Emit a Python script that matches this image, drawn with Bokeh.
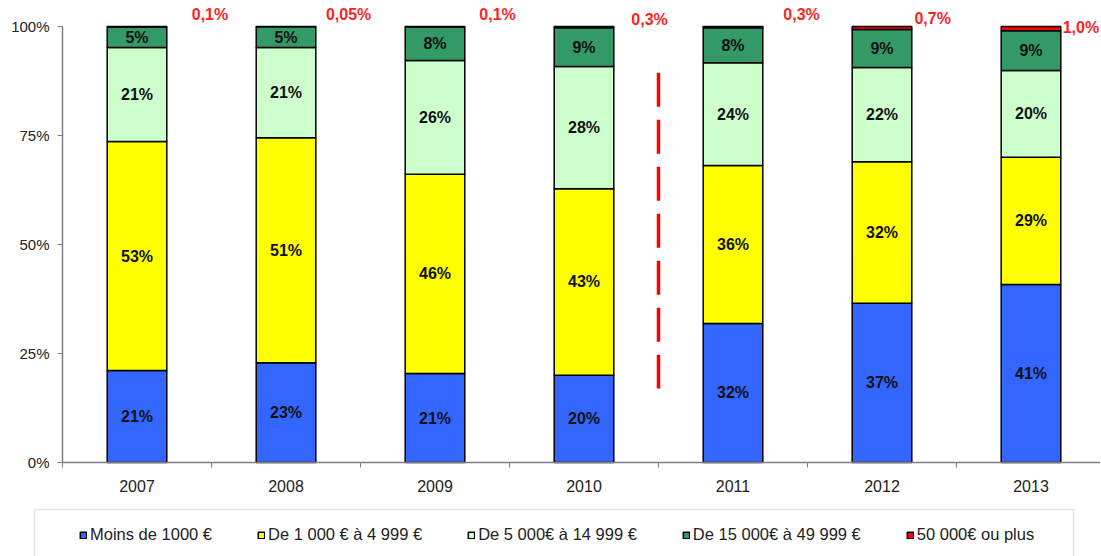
from bokeh.plotting import figure
from bokeh.models import (ColumnDataSource, FixedTicker, Legend, LegendItem,
                          PrintfTickFormatter, BoxAnnotation, LinearAxis)
from bokeh.embed import file_html
from bokeh.resources import INLINE
from bokeh.core.properties import value

# ---------------- data ----------------
years = ["2007", "2008", "2009", "2010", "2011", "2012", "2013"]
moins_1000 = [21.1, 22.9, 20.4, 20.0, 31.9, 36.5, 40.8]
de_1000_4999 = [52.5, 51.6, 45.7, 42.8, 36.2, 32.5, 29.2]
de_5000_14999 = [21.6, 20.7, 26.1, 28.0, 23.6, 21.6, 19.9]
de_15000_49999 = [4.7, 4.75, 7.7, 8.9, 8.0, 8.7, 9.1]
plus_50000 = [0.1, 0.05, 0.1, 0.3, 0.3, 0.7, 1.0]

labels_moins_1000 = ["21%", "23%", "21%", "20%", "32%", "37%", "41%"]
labels_1000_4999 = ["53%", "51%", "46%", "43%", "36%", "32%", "29%"]
labels_5000_14999 = ["21%", "21%", "26%", "28%", "24%", "22%", "20%"]
labels_15000_49999 = ["5%", "5%", "8%", "9%", "8%", "9%", "9%"]
labels_50000 = ["0,1%", "0,05%", "0,1%", "0,3%", "0,3%", "0,7%", "1,0%"]

series_names = ["Moins de 1000 €", "De 1 000 € à 4 999 €", "De 5 000€ à 14 999 €",
                "De 15 000€ à 49 999 €", "50 000€ ou plus"]
y_ticks = [0, 25, 50, 75, 100]
break_after_year = "2010"   # dashed separator between 2010 and 2011

# ---------------- layout / style ----------------
colors = ["#3366FF", "#FFFF00", "#CCFFCC", "#339966", "#FF0000"]
red_label_dx = [0.49, 0.42, 0.42, 0.44, 0.46, 0.34, 0.335]
red_label_y = [102.75, 102.75, 102.75, 101.6, 102.75, 101.8, 99.8]
sep_top, sep_bottom = 89.4, 17
FONT = "Liberation Sans"
AXIS_GREY = "#7F7F7F"
W, H = 1100, 556
PX_X, PX_Y = 149.0, 4.36          # pixels per category / per percent
ORIGIN_X, ORIGIN_Y = 62, 462      # pixel position of (0, 0%)

series = [moins_1000, de_1000_4999, de_5000_14999, de_15000_49999, plus_50000]
seg_labels = [labels_moins_1000, labels_1000_4999, labels_5000_14999, labels_15000_49999]
keys = ["s0", "s1", "s2", "s3", "s4"]
x = [i + 0.5 for i in range(len(years))]

data = {"x": x, "year": years}
for k, s in zip(keys, series):
    data[k] = s
source = ColumnDataSource(data)

x_start = -ORIGIN_X / PX_X
x_end = (W - ORIGIN_X) / PX_X
y_end = ORIGIN_Y / PX_Y
y_start = -(H - ORIGIN_Y) / PX_Y

p = figure(width=W, height=H, x_range=(x_start, x_end), y_range=(y_start, y_end),
           output_backend="svg", toolbar_location=None,
           x_axis_location=None, y_axis_location=None,
           min_border_left=0, min_border_right=0, min_border_top=0, min_border_bottom=0)
p.outline_line_color = None
p.xgrid.grid_line_color = None
p.ygrid.grid_line_color = None
p.background_fill_color = "white"

rends = p.vbar_stack(keys, x="x", width=0.4, source=source, color=colors,
                     line_color="black", line_width=1.5)

# segment labels
lx, ly, lt = [], [], []
for j in range(len(years)):
    bottom = 0
    for si in range(4):
        v = series[si][j]
        lx.append(x[j])
        ly.append(bottom + v / 2)
        lt.append(seg_labels[si][j])
        bottom += v
p.text(x=lx, y=ly, text=lt, text_align="center", text_baseline="middle",
       text_font=value(FONT), text_font_style="bold", text_font_size="16px",
       text_color="#111111")

# red labels for 50 000€ ou plus
p.text(x=[x[j] + red_label_dx[j] for j in range(len(years))], y=red_label_y,
       text=labels_50000, text_align="center", text_baseline="middle",
       text_font=value(FONT), text_font_style="bold", text_font_size="16px",
       text_color="#FF1F1F")

# dashed separator
bi = years.index(break_after_year) + 1
p.segment(x0=[bi], y0=[sep_top], x1=[bi], y1=[sep_bottom], line_color="#FF0000",
          line_width=3.5, line_dash="34 13")

# axes (fixed at the data origin so the frame can span the whole canvas)
xa = LinearAxis(fixed_location=0, bounds=(0, x_end))
xa.ticker = FixedTicker(ticks=x, minor_ticks=list(range(len(years) + 1)))
xa.major_label_overrides = {xi: y for xi, y in zip(x, years)}
xa.major_tick_out = 0
xa.major_tick_in = 0
xa.minor_tick_out = 5
xa.minor_tick_in = 0
xa.minor_tick_line_color = AXIS_GREY
xa.axis_line_color = AXIS_GREY
xa.axis_line_width = 1.5
xa.major_label_standoff = 12
xa.major_label_text_font = FONT
xa.major_label_text_font_size = "16px"
xa.major_label_text_color = "#222222"
p.add_layout(xa, "below")

ya = LinearAxis(fixed_location=0, bounds=(0, 100))
ya.ticker = FixedTicker(ticks=y_ticks)
ya.formatter = PrintfTickFormatter(format="%d%%")
ya.major_tick_out = 5
ya.major_tick_in = 0
ya.minor_tick_line_color = None
ya.axis_line_color = AXIS_GREY
ya.axis_line_width = 1.5
ya.major_tick_line_color = AXIS_GREY
ya.major_label_standoff = 8
ya.major_label_text_font = FONT
ya.major_label_text_font_size = "15px"
ya.major_label_text_color = "#222222"
p.add_layout(ya, "left")

# ---------------- legend (boxed strip below the axis) ----------------
box_left_px, box_right_px, box_top_px = 34, 1073, 509
legend_box = BoxAnnotation(left=(box_left_px - ORIGIN_X) / PX_X,
                           right=(box_right_px - ORIGIN_X) / PX_X,
                           top=(ORIGIN_Y - box_top_px) / PX_Y,
                           bottom=y_start - 5,
                           fill_color=None, fill_alpha=0,
                           line_color="#A6A6A6", line_width=1.5)
p.add_layout(legend_box)

legend = Legend(items=[LegendItem(label=n, renderers=[r]) for n, r in zip(series_names, rends)],
                orientation="horizontal", location=(79, 12))
legend.label_text_font = FONT
legend.label_text_font_size = "16.5px"
legend.label_text_color = "#222222"
legend.glyph_width = 8
legend.glyph_height = 8
legend.label_standoff = 3
legend.spacing = 45
legend.padding = 0
legend.margin = 0
legend.label_height = 16
legend.border_line_color = None
legend.background_fill_alpha = 0
p.add_layout(legend, "center")

open("out.html", "w").write(file_html(p, INLINE))
